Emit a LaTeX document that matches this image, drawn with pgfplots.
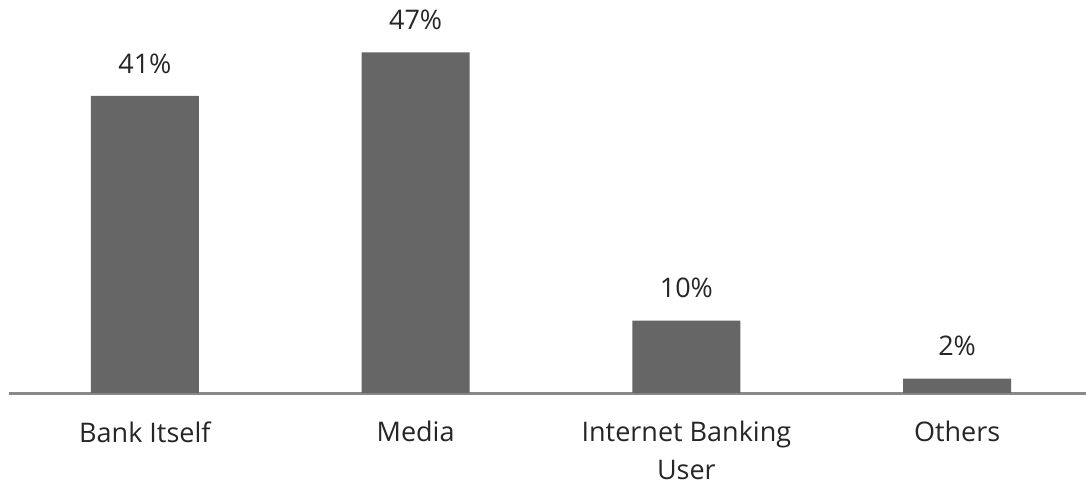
\documentclass[border=0pt]{standalone}
\usepackage{pgfplots}
\pgfplotsset{compat=1.18}
\usepackage{fontspec}
\setmainfont{Open Sans}
\definecolor{barc}{HTML}{666666}
\definecolor{linec}{HTML}{898989}
\definecolor{txt}{HTML}{262626}
\begin{document}
\begin{tikzpicture}
\begin{axis}[
  scale only axis,
  width=538.25pt, height=181.25pt,
  xmin=-0.5, xmax=3.476,
  ymin=0, ymax=50,
  axis x line=bottom,
  axis y line=none,
  axis line style={linec, line width=1.5pt, -},
  xtick=data,
  xticklabels={Bank Itself, Media, Internet Banking\\User, Others},
  major tick length=0pt,
  xticklabel style={align=center, font=\fontsize{13.5}{19}\selectfont, text=txt, anchor=north, inner sep=0pt, yshift=-14pt},
  ytick=\empty,
  ybar, bar width=54pt,
  /pgf/number format/assume math mode=true,
  nodes near coords={\pgfmathprintnumber{\pgfplotspointmeta}\%},
  nodes near coords style={font=\fontsize{13.5}{16}\selectfont, text=txt, anchor=south, inner sep=0pt, yshift=11pt},
  clip=false,
]
\addplot[fill=barc, draw=none] coordinates {(0,41) (1,47) (2,10) (3,2)};
\end{axis}
\pgfresetboundingbox
\path[use as bounding box] (-4.75pt,-47.5pt) rectangle (538.25pt,196.5pt);
\end{tikzpicture}
\end{document}
